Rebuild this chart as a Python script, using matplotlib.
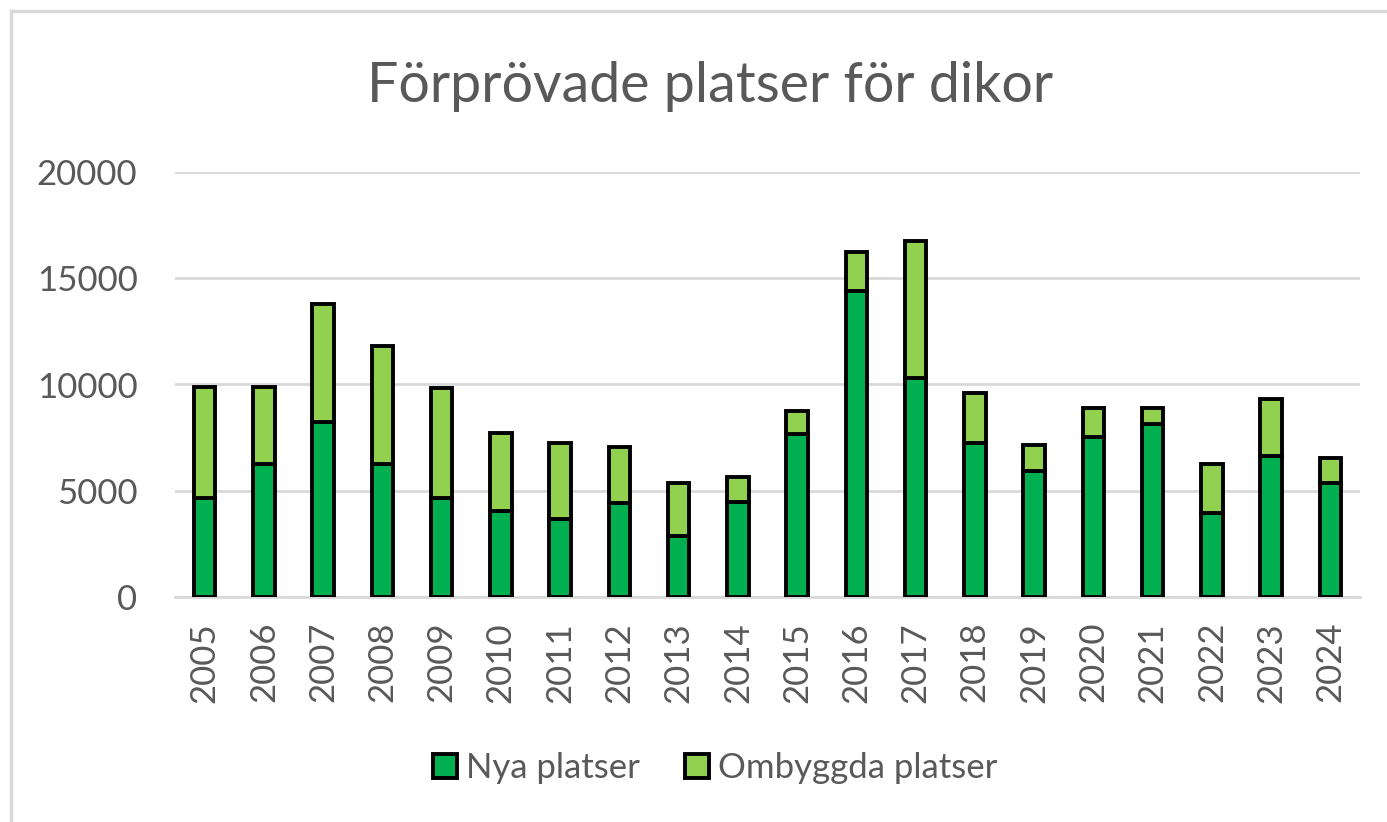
import matplotlib.pyplot as plt
from matplotlib.patches import Rectangle, Patch

plt.rcParams['font.family'] = ['Lato', 'DejaVu Sans']

# data
years = ['2005', '2006', '2007', '2008', '2009', '2010', '2011', '2012', '2013', '2014',
         '2015', '2016', '2017', '2018', '2019', '2020', '2021', '2022', '2023', '2024']
totals = [9900, 9900, 13770, 11790, 9820, 7730, 7240, 7050, 5350, 5670,
          8740, 16250, 16750, 9620, 7130, 8910, 8910, 6240, 9300, 6560]
nya = [4680, 6260, 8250, 6250, 4650, 4060, 3690, 4400, 2880, 4480,
       7650, 14380, 10300, 7240, 5950, 7550, 8130, 3970, 6640, 5350]
ombyggda = [t - n for t, n in zip(totals, nya)]

dark_green = '#00B050'
light_green = '#92D050'
text_col = '#595959'
grid_col = '#D9D9D9'

fig = plt.figure(figsize=(13.87, 8.22), dpi=100)
ax = fig.add_axes([175 / 1387, 1 - 597 / 822, (1360 - 175) / 1387, (597 - 172) / 822])

x = list(range(len(years)))
ax.bar(x, nya, width=0.36, color=dark_green, edgecolor='black', linewidth=2.8, zorder=3)
ax.bar(x, ombyggda, bottom=nya, width=0.36, color=light_green, edgecolor='black',
       linewidth=2.8, zorder=3)

ax.set_xlim(-0.5, len(years) - 0.5)
ax.set_ylim(0, 20000)
ax.set_yticks([0, 5000, 10000, 15000, 20000])
ax.set_xticks(x)
ax.set_xticklabels(years, rotation=90)
ax.tick_params(axis='y', length=0, pad=27, labelsize=25, labelcolor=text_col)
ax.tick_params(axis='x', length=0, pad=18, labelsize=25, labelcolor=text_col)
ax.yaxis.grid(True, color=grid_col, linewidth=2)
ax.set_axisbelow(True)
for s in ['top', 'right', 'left']:
    ax.spines[s].set_visible(False)
ax.spines['bottom'].set_color(grid_col)
ax.spines['bottom'].set_linewidth(2)

fig.text(710 / 1387, 1 - 86 / 822, 'Förprövade platser för dikor', ha='center', va='center',
         fontsize=40, color=text_col)

handles = [Patch(facecolor=dark_green, edgecolor='black', linewidth=2.8, label='Nya platser'),
           Patch(facecolor=light_green, edgecolor='black', linewidth=2.8, label='Ombyggda platser')]
fig.legend(handles=handles, loc='center', bbox_to_anchor=(715 / 1387, 1 - 768 / 822), ncol=2,
           frameon=False, fontsize=25, labelcolor=text_col, handlelength=0.7, handleheight=0.7,
           handletextpad=0.25, columnspacing=1.3)

# chart area border (only top and left visible in the crop)
fig.patches.append(Rectangle((11 / 1387, -0.1), 1.2, 1.1 - 11 / 822, transform=fig.transFigure,
                             fill=False, edgecolor=grid_col, linewidth=2.5))

fig.savefig('out.png', dpi=100)
